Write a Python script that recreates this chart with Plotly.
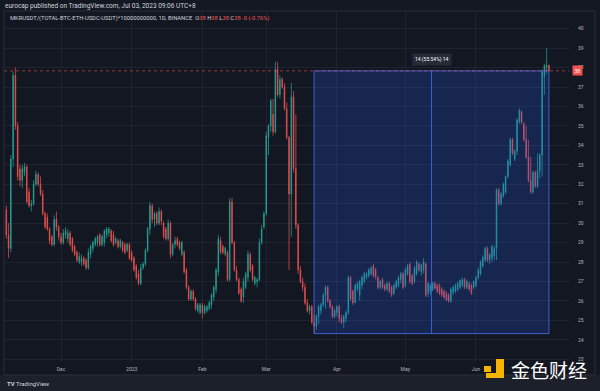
import plotly.graph_objects as go
import pandas as pd

# ---------------- data ----------------
start_date = "2022-11-07"

open_ = [30.7, 29.4, 28.7, 33.3, 37.6, 35.0, 32.8, 32.2, 32.6, 32.9,
         31.6, 30.9, 31.0, 32.0, 32.5, 32.0, 31.5, 30.5, 30.3, 29.7,
         29.3, 28.9, 30.2, 29.8, 29.3, 29.0, 29.4, 29.2, 29.5, 29.2,
         28.8, 28.5, 28.0, 28.0, 28.2, 28.1, 27.7, 28.4, 28.7, 28.9,
         29.0, 29.4, 28.9, 29.0, 29.4, 29.5, 29.6, 29.4, 29.0, 29.1,
         28.8, 29.0, 28.9, 28.6, 28.9, 28.5, 28.2, 27.8, 27.4, 26.9,
         27.7, 27.9, 28.6, 29.7, 30.9, 30.2, 30.5, 30.0, 30.6, 30.0,
         29.7, 29.2, 30.0, 28.4, 28.9, 29.2, 29.0, 28.4, 28.5, 27.6,
         26.7, 26.1, 26.5, 26.1, 25.5, 25.4, 25.8, 25.4, 25.5, 25.6,
         25.8, 26.2, 26.6, 27.5, 29.1, 28.8, 28.4, 28.5, 27.1, 31.1,
         29.0, 27.6, 27.1, 26.6, 26.2, 26.7, 27.2, 28.4, 27.8, 26.9,
         27.0, 27.1, 29.0, 29.8, 30.5, 34.4, 35.0, 35.6, 34.7, 37.9,
         36.6, 37.4, 37.0, 35.9, 34.4, 31.5, 36.5, 32.8, 29.9, 27.6,
         27.0, 26.7, 25.9, 25.5, 25.7, 24.9, 24.7, 25.2, 25.5, 25.8,
         26.3, 26.7, 26.0, 25.7, 25.2, 25.4, 25.7, 25.1, 24.9, 25.1,
         25.4, 27.2, 26.5, 25.9, 26.6, 26.3, 26.8, 27.0, 27.2, 27.3,
         27.4, 27.8, 27.6, 27.2, 26.7, 27.1, 26.8, 26.6, 26.9, 26.7,
         26.4, 26.7, 26.8, 27.1, 27.4, 26.8, 27.4, 27.9, 27.3, 27.0,
         27.4, 27.9, 27.5, 27.6, 27.9, 26.4, 26.5, 26.6, 26.9, 26.8,
         26.8, 26.6, 26.5, 26.4, 26.3, 26.0, 26.45, 26.5, 26.6, 26.7,
         26.8, 27.1, 26.7, 26.9, 26.8, 26.7, 26.8, 27.2, 27.4, 27.8,
         28.1, 28.7, 28.1, 28.2, 28.3, 28.7, 31.7, 31.0, 31.4, 31.6,
         32.4, 33.0, 34.3, 33.3, 33.7, 35.2, 35.7, 35.1, 34.3, 33.4,
         32.2, 31.6, 32.6, 31.9, 32.7, 33.5, 37.55, 38.0, 38.12]

high = [30.9, 30.0, 33.5, 37.8, 38.0, 35.2, 33.0, 33.0, 33.1, 33.0,
        31.8, 31.2, 32.2, 32.7, 32.6, 32.4, 31.7, 30.6, 30.5, 29.8,
        29.4, 30.4, 30.6, 29.9, 29.5, 29.7, 29.8, 29.7, 29.6, 29.3,
        28.9, 28.6, 28.5, 28.4, 28.3, 28.2, 28.7, 28.9, 29.1, 29.3,
        29.4, 29.5, 29.4, 29.7, 29.8, 29.8, 29.7, 29.6, 29.3, 29.2,
        29.2, 29.1, 29.0, 29.0, 29.0, 28.6, 28.3, 27.9, 27.6, 27.9,
        28.0, 28.7, 29.8, 31.1, 31.0, 30.6, 30.6, 30.8, 30.7, 30.1,
        29.8, 30.2, 30.1, 29.0, 29.3, 29.3, 29.1, 29.1, 28.6, 27.7,
        26.8, 26.6, 26.6, 26.2, 25.9, 25.9, 25.9, 25.8, 25.8, 26.0,
        26.4, 26.8, 27.7, 29.4, 29.3, 28.9, 28.8, 28.6, 31.3, 31.3,
        29.1, 27.8, 27.2, 26.7, 27.2, 27.5, 28.6, 28.5, 27.9, 27.3,
        27.2, 29.2, 29.9, 30.6, 34.7, 35.1, 36.4, 36.4, 38.3, 38.3,
        37.6, 37.5, 37.2, 36.2, 34.5, 37.2, 36.8, 35.6, 30.0, 27.8,
        27.2, 26.9, 26.1, 25.8, 25.8, 25.3, 25.3, 25.8, 25.9, 26.4,
        26.8, 26.8, 26.1, 25.8, 25.6, 25.8, 25.8, 25.3, 25.3, 25.5,
        27.3, 27.3, 26.6, 26.9, 27.0, 27.1, 27.3, 27.5, 27.5, 27.7,
        27.8, 27.9, 27.7, 27.3, 27.1, 27.2, 26.9, 27.0, 27.0, 26.8,
        26.9, 27.1, 27.3, 27.5, 27.5, 27.7, 27.9, 28.0, 27.4, 27.8,
        28.1, 28.0, 27.9, 28.2, 28.0, 27.0, 26.9, 27.0, 27.0, 26.9,
        26.9, 26.7, 26.6, 26.5, 26.4, 26.7, 26.8, 26.9, 27.0, 27.1,
        27.2, 27.2, 27.1, 27.0, 26.9, 27.05, 27.3, 27.7, 28.1, 28.35,
        28.8, 28.8, 28.45, 28.9, 28.85, 31.8, 31.8, 31.6, 32.1, 32.45,
        33.3, 34.4, 34.4, 33.8, 35.4, 35.9, 35.8, 35.2, 35.0, 34.3,
        33.4, 32.7, 32.7, 33.6, 33.6, 37.9, 38.2, 39.0, 38.15]

low = [29.2, 28.2, 28.5, 32.9, 34.8, 32.2, 31.9, 31.8, 32.4, 31.0,
       30.8, 30.6, 30.9, 31.9, 31.9, 31.4, 30.4, 29.7, 29.6, 28.9,
       28.8, 28.8, 29.6, 29.1, 28.9, 28.9, 29.2, 29.0, 28.8, 28.5,
       28.3, 28.0, 27.9, 27.8, 27.8, 27.6, 27.6, 28.2, 28.5, 28.8,
       28.8, 28.8, 28.8, 28.8, 29.2, 29.3, 29.0, 28.8, 28.9, 28.7,
       28.7, 28.5, 28.4, 28.5, 28.1, 28.0, 27.5, 27.1, 26.8, 26.8,
       27.6, 27.8, 28.5, 29.4, 30.0, 29.8, 29.9, 29.9, 29.9, 29.2,
       29.1, 29.1, 28.2, 28.3, 28.7, 28.8, 28.6, 28.3, 27.4, 26.6,
       26.0, 26.0, 26.0, 25.5, 25.4, 25.3, 25.1, 25.3, 25.4, 25.5,
       25.6, 26.0, 26.4, 27.3, 28.4, 28.4, 28.3, 27.0, 27.0, 28.9,
       27.5, 27.0, 26.3, 25.9, 25.9, 26.6, 27.0, 27.5, 27.0, 26.8,
       26.7, 27.0, 28.9, 29.7, 30.4, 33.5, 34.7, 34.5, 34.6, 36.5,
       36.4, 36.9, 35.8, 34.3, 27.6, 29.3, 32.6, 29.7, 27.4, 26.9,
       26.5, 25.8, 25.4, 25.3, 24.8, 24.32, 24.5, 24.8, 25.3, 25.7,
       25.6, 25.9, 25.6, 25.1, 25.1, 25.2, 24.9, 24.8, 24.6, 24.9,
       25.3, 26.0, 25.8, 25.9, 26.5, 26.0, 26.6, 26.9, 27.1, 27.2,
       27.3, 27.2, 27.1, 26.6, 26.6, 26.6, 26.5, 26.5, 26.4, 26.2,
       26.3, 26.6, 26.7, 26.9, 26.6, 26.7, 27.3, 26.9, 26.8, 26.9,
       27.3, 27.5, 27.3, 27.4, 26.2, 26.2, 26.3, 26.5, 26.6, 26.4,
       26.3, 26.2, 26.1, 26.0, 25.9, 25.9, 26.3, 26.4, 26.5, 26.6,
       26.7, 26.6, 26.6, 26.5, 26.3, 26.6, 26.7, 27.1, 27.3, 27.7,
       28.0, 28.0, 27.9, 28.0, 28.1, 28.1, 30.9, 30.9, 31.3, 31.5,
       32.3, 32.9, 33.5, 33.2, 33.5, 35.1, 35.1, 34.2, 33.3, 32.1,
       31.5, 31.5, 31.8, 31.8, 32.3, 32.4, 36.6, 37.7, 37.8]

close = [29.4, 28.7, 33.3, 37.6, 35.0, 32.4, 32.2, 32.8, 32.9, 31.1,
         30.9, 31.0, 32.0, 32.5, 32.0, 31.5, 30.5, 29.8, 29.7, 29.1,
         28.9, 30.2, 29.8, 29.3, 29.0, 29.5, 29.6, 29.5, 28.9, 28.6,
         28.4, 28.1, 28.3, 28.2, 27.9, 27.7, 28.5, 28.8, 29.0, 29.2,
         29.3, 28.9, 29.3, 29.6, 29.7, 29.7, 29.1, 28.9, 29.2, 28.8,
         29.1, 28.6, 28.5, 28.9, 28.2, 28.1, 27.6, 27.2, 26.9, 27.7,
         27.9, 28.6, 29.7, 30.9, 30.2, 30.5, 30.0, 30.6, 30.1, 29.3,
         29.2, 30.0, 28.4, 28.9, 29.1, 28.9, 28.7, 29.0, 27.5, 26.7,
         26.1, 26.5, 26.1, 25.6, 25.8, 25.8, 25.4, 25.7, 25.7, 25.9,
         26.3, 26.7, 27.6, 29.2, 28.5, 28.5, 28.7, 27.1, 31.1, 29.0,
         27.6, 27.1, 26.4, 26.0, 27.0, 27.4, 28.4, 27.6, 27.1, 27.2,
         27.1, 29.0, 29.7, 30.5, 34.5, 35.0, 36.3, 34.7, 37.9, 36.6,
         37.4, 37.0, 35.9, 34.4, 31.5, 36.5, 32.8, 29.9, 27.6, 27.0,
         26.7, 25.9, 25.5, 25.7, 24.9, 24.7, 25.2, 25.7, 25.8, 26.3,
         26.7, 26.0, 25.7, 25.2, 25.5, 25.7, 25.1, 24.9, 25.2, 25.4,
         27.2, 26.1, 25.9, 26.8, 26.9, 27.0, 27.2, 27.4, 27.4, 27.6,
         27.7, 27.3, 27.25, 26.7, 27.0, 26.7, 26.6, 26.9, 26.5, 26.3,
         26.8, 27.0, 27.2, 27.4, 26.7, 27.6, 27.8, 27.0, 26.9, 27.7,
         28.0, 27.6, 27.85, 28.0, 26.3, 26.9, 26.8, 26.9, 26.65, 26.5,
         26.4, 26.3, 26.2, 26.05, 26.0, 26.6, 26.7, 26.8, 26.9, 27.05,
         27.1, 26.7, 27.0, 26.6, 26.4, 27.0, 27.2, 27.6, 28.0, 28.25,
         28.7, 28.1, 28.4, 28.8, 28.7, 31.7, 31.0, 31.5, 32.0, 32.4,
         33.2, 34.3, 33.6, 33.7, 35.3, 35.8, 35.2, 34.3, 33.4, 32.2,
         31.6, 32.6, 31.9, 32.7, 33.5, 37.8, 38.1, 38.12, 37.83]

assert len(open_) == len(high) == len(low) == len(close)

tick_dates = ["2022-12-01", "2023-01-01", "2023-02-01", "2023-03-01",
              "2023-04-01", "2023-05-01", "2023-06-01"]
tick_text = ["Dec", "2023", "Feb", "Mar", "Apr", "May", "Jun"]
price_ticks = list(range(23, 41))

measure_start = "2023-03-22"
measure_end = "2023-07-03"
measure_low = 24.32
measure_high = 37.83
measure_label = "14 (55.54%) 14"
last_price = 37.83
last_label = "38"

title_line1 = "eurocap published on TradingView.com, Jul 03, 2023 09:06 UTC+8"
symbol_text = "MKRUSDT/(TOTAL-BTC-ETH-USDC-USDT)*10000000000, 1D, BINANCE"
ohlc_text = ["38", "38", "38", "38"]
change_text = "-0 (-0.76%)"

# ---------------- styling ----------------
BG = "#131722"
GRID = "#1f2330"
UP = "#26a69a"
DOWN = "#ef5350"
TXT = "#b2b5be"
FONT = "Roboto"

W, H = 600, 391
L, R, T, B = 4, 31, 11, 29
PW, PH = W - L - R, H - T - B


def px(xp):
    return (xp - L) / PW


def py(yp):
    return (H - B - yp) / PH


dates = pd.date_range(start_date, periods=len(close), freq="D")

fig = go.Figure()
fig.add_trace(go.Candlestick(
    x=dates, open=open_, high=high, low=low, close=close,
    increasing=dict(line=dict(color=UP, width=0.7), fillcolor=UP),
    decreasing=dict(line=dict(color=DOWN, width=0.7), fillcolor=DOWN),
    whiskerwidth=0, showlegend=False, hoverinfo="skip",
))

mid = pd.Timestamp(measure_start) + (pd.Timestamp(measure_end) - pd.Timestamp(measure_start)) / 2

shapes = [
    # measurement rectangle
    dict(type="rect", xref="x", yref="y", x0=measure_start, x1=measure_end,
         y0=measure_low, y1=measure_high, fillcolor="rgba(41,98,255,0.2)",
         line=dict(color="rgba(70,110,235,0.85)", width=1), layer="above"),
    dict(type="line", xref="x", yref="y", x0=mid, x1=mid,
         y0=measure_low, y1=measure_high,
         line=dict(color="rgba(60,100,240,0.9)", width=1), layer="above"),
    # last price line
    dict(type="line", xref="paper", yref="y", x0=0, x1=1,
         y0=last_price, y1=last_price,
         line=dict(color="rgba(239,83,80,0.6)", width=1, dash="dot"), layer="above"),
    # footer band
    dict(type="rect", xref="paper", yref="paper", x0=px(0), x1=px(600),
         y0=py(391), y1=py(375), fillcolor="#1c202b", line=dict(width=0), layer="below"),
    # frame
    dict(type="rect", xref="paper", yref="paper", x0=px(4), x1=px(595),
         y0=py(375), y1=py(11), fillcolor="rgba(0,0,0,0)",
         line=dict(color="#2a2e39", width=1), layer="above"),
    # watermark logo (yellow blocks)
    dict(type="rect", xref="paper", yref="paper", x0=px(484), x1=px(491),
         y0=py(372), y1=py(366), fillcolor="#f5b400", line=dict(width=0), layer="above"),
    dict(type="rect", xref="paper", yref="paper", x0=px(496), x1=px(504),
         y0=py(378), y1=py(359), fillcolor="#f5b400", line=dict(width=0), layer="above"),
    dict(type="rect", xref="paper", yref="paper", x0=px(486), x1=px(504),
         y0=py(378), y1=py(373), fillcolor="#f5b400", line=dict(width=0), layer="above"),
]

red = DOWN
hdr2 = (f"{symbol_text}  "
        f"O<span style='color:{red}'>{ohlc_text[0]}</span> "
        f"H<span style='color:{red}'>{ohlc_text[1]}</span> "
        f"L<span style='color:{red}'>{ohlc_text[2]}</span> "
        f"C<span style='color:{red}'>{ohlc_text[3]}</span> "
        f"<span style='color:{red}'>{change_text}</span>")

annotations = [
    dict(xref="paper", yref="paper", x=px(3), y=py(6), xanchor="left", yanchor="middle",
         text=title_line1, showarrow=False, font=dict(family=FONT, size=6.5, color="#d1d4dc")),
    dict(xref="paper", yref="paper", x=px(8), y=py(18), xanchor="left", yanchor="middle",
         text=hdr2, showarrow=False, font=dict(family=FONT, size=5.8, color="#d1d4dc")),
    dict(xref="x", yref="y", x=mid, y=measure_high, yshift=11, xanchor="center",
         yanchor="middle", text=measure_label, showarrow=False, bgcolor="#272b38",
         borderpad=2, font=dict(family=FONT, size=5, color="#ffffff")),
    dict(xref="paper", yref="y", x=px(572), y=last_price, xanchor="left", yanchor="middle",
         text=last_label, showarrow=False, bgcolor=DOWN, borderpad=1.5,
         font=dict(family=FONT, size=5, color="#ffffff")),
    dict(xref="paper", yref="paper", x=px(5), y=py(383), xanchor="left", yanchor="middle",
         text="<b>TV</b> TradingView", showarrow=False,
         font=dict(family=FONT, size=6, color="#d1d4dc")),
    dict(xref="paper", yref="paper", x=px(549), y=py(369), xanchor="center", yanchor="middle",
         text="金色财经", showarrow=False,
         font=dict(family="Noto Sans CJK SC", size=19, color="#ffffff")),
]

fig.update_layout(
    width=W, height=H,
    margin=dict(l=L, r=R, t=T, b=B),
    paper_bgcolor=BG, plot_bgcolor=BG,
    boxgap=0.6,
    shapes=shapes, annotations=annotations,
    showlegend=False,
    xaxis=dict(
        type="date",
        range=["2022-11-06 00:00", "2023-07-11 19:00"],
        tickvals=tick_dates, ticktext=tick_text,
        showgrid=True, gridcolor=GRID, gridwidth=1,
        zeroline=False, showline=False,
        ticks="outside", ticklen=2, tickcolor="rgba(0,0,0,0)",
        tickfont=dict(family=FONT, size=5, color=TXT),
        rangeslider=dict(visible=False),
        fixedrange=True,
    ),
    yaxis=dict(
        side="right",
        range=[22.86, 40.91],
        tickvals=price_ticks,
        showgrid=True, gridcolor=GRID, gridwidth=1,
        zeroline=False, showline=False,
        ticks="outside", ticklen=7, tickcolor="rgba(0,0,0,0)",
        tickfont=dict(family=FONT, size=5, color=TXT),
        fixedrange=True,
    ),
)

fig.write_html("out.html",
               config={"displayModeBar": False},
               post_script="document.body.style.margin='0';document.body.style.background='#131722';")
